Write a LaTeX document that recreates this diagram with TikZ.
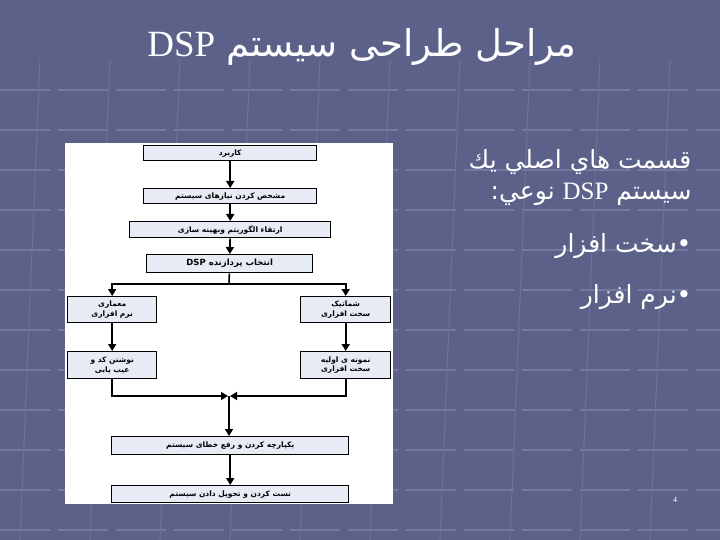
\documentclass[tikz,border=0pt]{standalone}
\usepackage{fontspec}
\setmainfont{Liberation Serif}
\newfontfamily\arabicfont[Script=Arabic]{DejaVu Sans}
\TeXXeTstate=1
\usetikzlibrary{arrows.meta}
\definecolor{bg}{HTML}{5C6189}
\definecolor{bgline}{HTML}{7479A0}
\definecolor{boxfill}{HTML}{E6EBF4}
\begin{document}
\begin{tikzpicture}[x=1pt,y=-1pt,
  fbox/.style={draw=black,line width=1.4pt,fill=boxfill,inner sep=0pt,anchor=north west,font=\arabicfont\bfseries\fontsize{7.5}{9.5}\selectfont,align=center},
  conn/.style={line width=1.6pt,-{Triangle[length=7pt,width=8pt]}},
  wline/.style={line width=1.6pt}]
\fill[bg] (0,0) rectangle (720,540);
\useasboundingbox (0,0) rectangle (720,540);
\foreach \y in {90,130,170,210,250,290,330,370,410,450,490,530}
  \draw[bgline,line width=2pt,dash pattern=on 50pt off 8pt] (0,\y) -- (720,\y);
\foreach \x in {40,110,180,250,320,390,460,530,600,670}
  \draw[bgline!70!bg,line width=1pt] (\x,60) -- (\x-20,540);
\node[font=\arabicfont\fontsize{37}{42}\selectfont,text=white] (title) at (362,47) {\beginR مراحل طراحی سیستم \beginL{\rmfamily DSP}\endL\endR};
\fill[white] (65,143) rectangle (393,504);
\node[fbox,minimum width=173pt,minimum height=15pt] (b1) at (143,145) {\beginR کاربرد\endR};
\node[fbox,minimum width=173pt,minimum height=15pt] (b2) at (143,188) {\beginR مشخص کردن نیازهای سیستم\endR};
\node[fbox,minimum width=201pt,minimum height=16pt] (b3) at (129,221) {\beginR ارتقاء الگوریتم وبهینه سازی\endR};
\node[fbox,minimum width=166pt,minimum height=18pt,font=\arabicfont\bfseries\fontsize{8.5}{10}\selectfont] (b4) at (146,254) {\beginR انتخاب پردازنده \beginL DSP\endL\endR};
\node[fbox,minimum width=89pt,minimum height=26pt] (l1) at (67,296) {\beginR معماری\endR\\\beginR نرم افزاری\endR};
\node[fbox,minimum width=90pt,minimum height=26pt] (r1) at (300,296) {\beginR شماتیک\endR\\\beginR سخت افزاری\endR};
\node[fbox,minimum width=89pt,minimum height=27pt] (l2) at (67,351) {\beginR نوشتن کد و\endR\\\beginR عیب یابی\endR};
\node[fbox,minimum width=90pt,minimum height=27pt] (r2) at (300,351) {\beginR نمونه ی اولیه\endR\\\beginR سخت افزاری\endR};
\node[fbox,minimum width=237pt,minimum height=18pt] (b5) at (111,436) {\beginR یکپارچه کردن و رفع خطای سیستم\endR};
\node[fbox,minimum width=237pt,minimum height=17pt] (b6) at (111,485) {\beginR تست کردن و تحویل دادن سیستم\endR};
\coordinate (split) at (229,284);
\coordinate (join) at (229,396);
\draw[conn] (b1) -- (b2);
\draw[conn] (b2) -- (b3);
\draw[conn] (b3) -- (b4);
\draw[wline] (b4) -- (split);
\draw[conn] (split) -| (l1.north);
\draw[conn] (split) -| (r1.north);
\draw[conn] (l1) -- (l2);
\draw[conn] (r1) -- (r2);
\draw[conn] (l2.south) |- ([xshift=-1pt]join);
\draw[conn] (r2.south) |- ([xshift=1pt]join);
\draw[conn] (join) -- (join |- b5.north);
\draw[conn] (b5) -- (b6);
\begin{scope}[every node/.style={font=\arabicfont\fontsize{25}{30}\selectfont,text=white,anchor=east}]
\node (t1) at (695,162) {\beginR قسمت هاي اصلي يك\endR};
\node (t2) at (695,194) {\beginR سيستم \beginL{\rmfamily DSP}\endL{} نوعي:\endR};
\node (t3) at (695,246) {\beginR •سخت افزار\endR};
\node (t4) at (695,297) {\beginR •نرم افزار\endR};
\end{scope}
\node[text=white,font=\fontsize{8}{9}\selectfont] (pg) at (675,500) {4};
\end{tikzpicture}
\end{document}
